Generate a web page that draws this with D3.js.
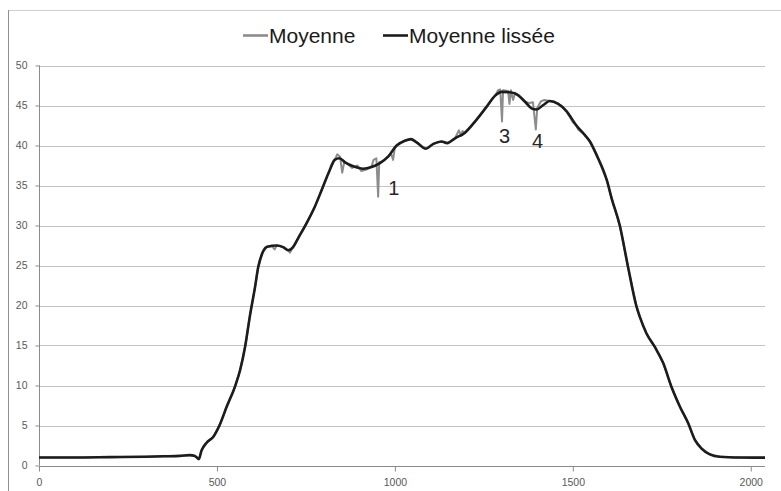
<!DOCTYPE html>
<html><head><meta charset="utf-8">
<script src="https://cdn.jsdelivr.net/npm/d3@7"></script>
<style>body{margin:0;background:#fff}svg{display:block}</style>
</head><body>
<svg id="c" width="781" height="491"></svg>
<script>
const seriesNames = ["Moyenne", "Moyenne lissée"];
const xTicks = [0, 500, 1000, 1500, 2000];
const yTicks = [0, 5, 10, 15, 20, 25, 30, 35, 40, 45, 50];

// Smoothed series ("Moyenne lissée")
const smoothX = [0,100,200,300,350,396,424,438,449,457,471,490,508,527,551,565,579,593,607,616,628,641,668,686,700,714,728,752,775,794,813,831,844,860,883,911,934,958,981,1005,1028,1045,1061,1087,1108,1131,1147,1169,1197,1229,1257,1281,1300,1323,1346,1365,1384,1398,1417,1435,1459,1482,1510,1534,1548,1567,1596,1609,1632,1655,1679,1688,1707,1730,1754,1777,1801,1824,1843,1861,1885,1913,1969,2040];
const smoothY = [1.0,1.0,1.05,1.1,1.15,1.2,1.3,1.2,0.8,1.9,2.85,3.6,5.1,7.3,9.9,11.9,14.8,18.8,22.3,24.8,26.6,27.35,27.5,27.3,26.9,27.3,28.4,30.3,32.35,34.4,36.5,38.2,38.4,37.9,37.4,37.1,37.3,37.8,38.6,40.0,40.6,40.8,40.4,39.6,40.2,40.5,40.3,40.9,41.6,43.2,44.8,46.2,46.7,46.65,46.3,45.5,44.65,44.5,45.06,45.56,45.2,44.3,42.5,41.3,40.5,38.8,35.6,33.4,30.0,24.85,19.85,18.6,16.5,14.85,12.8,9.85,7.35,5.3,3.2,2.15,1.4,1.1,1.0,0.98];

// Raw series ("Moyenne")
const rawX = [0,100,200,300,350,396,424,438,449,457,471,490,508,527,551,565,579,593,607,616,628,641,655,662,668,686,700,705,714,728,752,775,794,813,831,838,846,852,858,870,880,895,906,920,934,940,948,953,956,965,981,990,995,1000,1005,1028,1045,1061,1087,1100,1108,1131,1147,1169,1180,1186,1190,1197,1229,1257,1281,1290,1296,1301,1304,1318,1322,1326,1332,1338,1346,1365,1378,1388,1396,1400,1410,1420,1435,1445,1459,1470,1482,1500,1510,1515,1534,1548,1567,1596,1609,1632,1655,1679,1688,1707,1730,1754,1777,1801,1824,1843,1861,1885,1913,1969,2040];
const rawY = [1.0,1.0,1.05,1.1,1.15,1.2,1.3,1.2,0.8,1.9,2.85,3.6,5.1,7.3,9.9,11.9,14.8,18.8,22.3,24.8,26.6,27.35,27.4,27.0,27.5,27.3,26.9,26.6,27.3,28.4,30.3,32.35,34.4,36.5,38.2,38.9,38.6,36.6,38.0,37.6,37.2,37.5,36.8,37.0,37.3,38.2,38.4,33.6,37.9,38.0,38.6,38.9,38.2,39.8,40.0,40.6,40.8,40.4,39.6,40.0,40.2,40.5,40.3,40.9,41.9,41.2,41.8,41.6,43.2,44.8,46.2,46.9,47.0,43.0,46.9,46.8,45.2,46.9,45.7,46.6,46.3,45.5,45.3,45.4,42.0,44.7,45.5,45.7,45.56,45.5,45.2,44.9,44.3,42.9,42.5,42.0,41.3,40.5,38.8,35.6,33.4,30.0,24.85,19.85,18.6,16.5,14.85,12.8,9.85,7.35,5.3,3.2,2.15,1.4,1.1,1.0,0.98];

const annoLabels = ["1", "3", "4"];
const annoX = [997, 1308, 1401];
const annoY = [33.8, 40.3, 39.7];

const svg = d3.select("#c");
const x = d3.scaleLinear().domain([0, 2040]).range([39, 765]);
const y = d3.scaleLinear().domain([0, 50]).range([465.5, 65.5]);
const FONT = "'Liberation Sans', Arial, sans-serif";

// outer border
svg.append("rect").attr("x", 8.5).attr("y", 10.5).attr("width", 790).attr("height", 500)
  .attr("fill", "none").attr("stroke", "#d0d0d0").attr("stroke-width", 1);
svg.append("line").attr("x1", 8.5).attr("x2", 8.5).attr("y1", 10).attr("y2", 491).attr("stroke", "#909090");

// gridlines
svg.append("g").selectAll("line").data(yTicks.filter(d => d > 0)).join("line")
  .attr("x1", 39).attr("x2", 765)
  .attr("y1", d => Math.round(y(d)) + 0.5).attr("y2", d => Math.round(y(d)) + 0.5)
  .attr("stroke", "#c4c4c4").attr("stroke-width", 1);

// y axis
const yAxis = d3.axisLeft(y).tickValues(yTicks).tickSize(4).tickPadding(8).tickFormat(d3.format("d"));
const gy = svg.append("g").attr("transform", "translate(39.5,0)").call(yAxis);
gy.select(".domain").attr("stroke", "#8a8a8a").attr("d", `M0,${y(50)}V${y(0)}`);
gy.selectAll(".tick line").attr("stroke", "#8a8a8a");
gy.selectAll(".tick text").attr("fill", "#595959").attr("font-size", "10.5px").attr("font-family", FONT);

// x axis
const xAxis = d3.axisBottom(x).tickValues(xTicks).tickSize(5).tickPadding(7).tickSizeOuter(0).tickFormat(d3.format("d"));
const gx = svg.append("g").attr("transform", `translate(0,${Math.round(y(0)) + 0.5})`).call(xAxis);
gx.select(".domain").attr("stroke", "#8a8a8a").attr("d", `M39,0H765`);
gx.selectAll(".tick line").attr("stroke", "#8a8a8a");
gx.selectAll(".tick text").attr("fill", "#595959").attr("font-size", "10.5px").attr("font-family", FONT);

// lines
const line = d3.line().x(d => x(d[0])).y(d => y(d[1]));
const rawData = rawX.map((v, i) => [v, rawY[i]]);
const smoothData = smoothX.map((v, i) => [v, smoothY[i]]);
svg.append("path").datum(rawData).attr("d", line.curve(d3.curveLinear))
  .attr("fill", "none").attr("stroke", "#8c8c8c").attr("stroke-width", 2).attr("stroke-linejoin", "round");
svg.append("path").datum(smoothData).attr("d", line.curve(d3.curveMonotoneX))
  .attr("fill", "none").attr("stroke", "#1c1c1c").attr("stroke-width", 2.6).attr("stroke-linejoin", "round");

// annotations
svg.append("g").selectAll("text").data(annoLabels).join("text")
  .attr("x", (d, i) => x(annoX[i])).attr("y", (d, i) => y(annoY[i]))
  .attr("text-anchor", "middle").attr("font-size", "20px").attr("fill", "#262626")
  .attr("font-family", FONT).text(d => d);

// legend
const legX = [243, 383];
const legColors = ["#8c8c8c", "#1c1c1c"];
const leg = svg.append("g");
seriesNames.forEach((n, i) => {
  leg.append("line").attr("x1", legX[i]).attr("x2", legX[i] + 25).attr("y1", 35.5).attr("y2", 35.5)
    .attr("stroke", legColors[i]).attr("stroke-width", 2.6);
  leg.append("text").attr("x", legX[i] + 26).attr("y", 42.5).attr("font-size", "21px")
    .attr("fill", "#1a1a1a").attr("font-family", FONT).text(n);
});
</script>
</body></html>
